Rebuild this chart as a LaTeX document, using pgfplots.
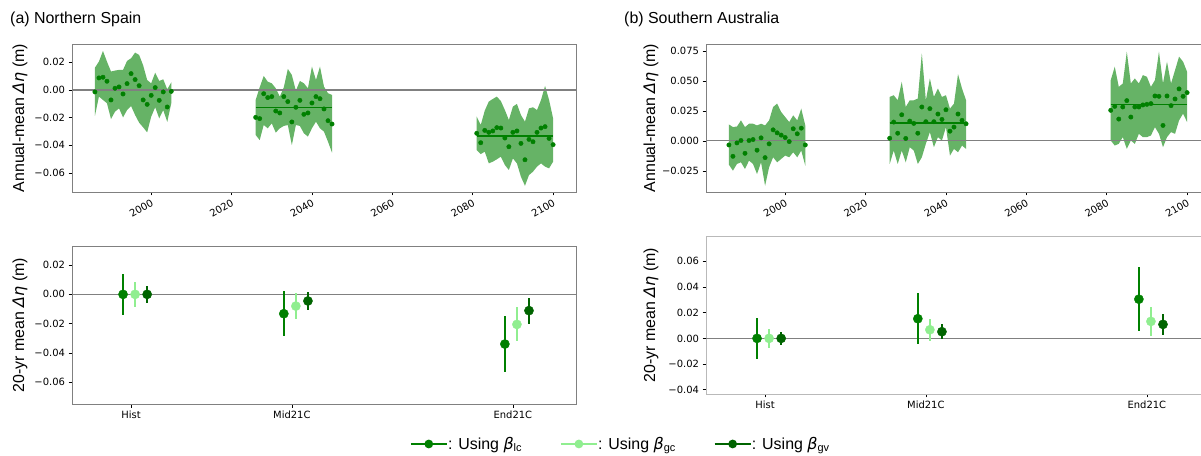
\documentclass[border=0pt]{standalone}
\usepackage{pgfplots}
\pgfplotsset{compat=1.18}
\usepackage{pgfplotstable}
\usepgfplotslibrary{fillbetween}
\usepackage{fontspec}
\setmainfont{Liberation Sans}
\newfontfamily\dv{DejaVu Sans}
\definecolor{lc}{RGB}{0,128,0}
\definecolor{gc}{RGB}{144,238,144}
\definecolor{gv}{RGB}{0,100,0}
\definecolor{band}{RGB}{102,179,102}
\definecolor{spine}{RGB}{128,128,128}
\definecolor{spinelt}{RGB}{185,185,185}

\pgfplotstableread{
year val lo hi
1986 -0.0014 -0.0188 0.0161
1987 0.0087 -0.0048 0.0205
1988 0.0092 -0.0072 0.0282
1989 0.0063 -0.0096 0.0205
1990 -0.0072 -0.0210 0.0133
1991 0.0012 -0.0157 0.0140
1992 0.0022 -0.0133 0.0145
1993 -0.0029 -0.0198 0.0145
1994 0.0046 -0.0145 0.0210
1995 0.0118 -0.0116 0.0229
1996 0.0075 -0.0181 0.0270
1997 0.0031 -0.0236 0.0253
1998 -0.0072 -0.0270 0.0178
1999 -0.0104 -0.0306 0.0072
2000 -0.0039 -0.0193 0.0048
2001 0.0017 -0.0125 0.0125
2002 -0.0075 -0.0205 0.0065
2003 -0.0014 -0.0145 0.0077
2004 -0.0123 -0.0231 0.0005
2005 -0.0010 -0.0096 0.0055
}\NSH
\pgfplotstableread{
year val lo hi
2026 -0.0198 -0.0325 -0.0072
2027 -0.0207 -0.0362 0.0019
2028 -0.0027 -0.0253 0.0101
2029 -0.0055 -0.0277 0.0060
2030 -0.0048 -0.0241 0.0048
2031 -0.0152 -0.0308 0.0012
2032 -0.0166 -0.0277 -0.0048
2033 -0.0048 -0.0260 0.0019
2034 -0.0084 -0.0253 0.0152
2035 -0.0231 -0.0398 0.0108
2036 -0.0125 -0.0253 -0.0005
2037 -0.0075 -0.0260 0.0065
2038 -0.0176 -0.0313 0.0048
2039 -0.0166 -0.0337 0.0012
2040 -0.0094 -0.0277 0.0169
2041 -0.0048 -0.0229 0.0072
2042 -0.0063 -0.0277 0.0169
2043 -0.0137 -0.0301 0.0024
2044 -0.0222 -0.0374 -0.0024
2045 -0.0246 -0.0453 -0.0036
}\NSM
\pgfplotstableread{
year val lo hi
2081 -0.0313 -0.0434 -0.0193
2082 -0.0381 -0.0463 -0.0253
2083 -0.0292 -0.0446 -0.0149
2084 -0.0306 -0.0530 -0.0084
2085 -0.0296 -0.0518 -0.0065
2086 -0.0272 -0.0501 -0.0048
2087 -0.0275 -0.0482 -0.0080
2088 -0.0347 -0.0542 -0.0145
2089 -0.0410 -0.0578 -0.0217
2090 -0.0306 -0.0494 -0.0120
2091 -0.0296 -0.0530 -0.0101
2092 -0.0386 -0.0627 -0.0181
2093 -0.0504 -0.0692 -0.0229
2094 -0.0357 -0.0615 -0.0133
2095 -0.0374 -0.0590 -0.0125
2096 -0.0306 -0.0554 -0.0145
2097 -0.0275 -0.0530 -0.0072
2098 -0.0265 -0.0554 0.0029
2099 -0.0350 -0.0566 -0.0072
2100 -0.0395 -0.0518 -0.0205
}\NSE
\pgfplotstableread{
year val lo hi
1986 -0.0034 -0.0199 0.0137
1987 -0.0129 -0.0249 0.0115
1988 -0.0017 -0.0193 0.0120
1989 0.0003 -0.0179 0.0171
1990 -0.0104 -0.0235 0.0115
1991 0.0003 -0.0165 0.0143
1992 0.0011 -0.0193 0.0143
1993 -0.0078 -0.0277 0.0129
1994 0.0025 -0.0179 0.0143
1995 -0.0140 -0.0375 0.0129
1996 -0.0025 -0.0221 0.0171
1997 0.0092 -0.0137 0.0283
1998 0.0067 -0.0179 0.0311
1999 0.0048 -0.0151 0.0241
2000 0.0028 -0.0123 0.0199
2001 -0.0006 -0.0137 0.0157
2002 0.0101 -0.0095 0.0213
2003 0.0059 -0.0137 0.0171
2004 0.0106 -0.0081 0.0269
2005 -0.0034 -0.0207 0.0129
}\SAH
\pgfplotstableread{
year val lo hi
2026 0.0022 -0.0193 0.0367
2027 0.0157 -0.0081 0.0381
2028 0.0064 -0.0193 0.0339
2029 0.0218 -0.0081 0.0493
2030 0.0020 -0.0179 0.0283
2031 0.0165 -0.0053 0.0339
2032 0.0146 -0.0081 0.0339
2033 0.0064 -0.0193 0.0353
2034 0.0283 -0.0137 0.0731
2035 0.0160 -0.0025 0.0339
2036 0.0269 0.0073 0.0521
2037 0.0160 -0.0053 0.0367
2038 0.0224 0.0031 0.0437
2039 0.0179 0.0003 0.0367
2040 0.0260 0.0115 0.0381
2041 0.0081 -0.0123 0.0269
2042 0.0115 -0.0067 0.0311
2043 0.0224 -0.0095 0.0557
2044 0.0171 -0.0039 0.0437
2045 0.0143 -0.0067 0.0339
}\SAM
\pgfplotstableread{
year val lo hi
2081 0.0255 0.0003 0.0507
2082 0.0288 -0.0039 0.0619
2083 0.0182 -0.0025 0.0451
2084 0.0283 0.0031 0.0479
2085 0.0336 -0.0067 0.0745
2086 0.0199 0.0003 0.0479
2087 0.0283 -0.0025 0.0521
2088 0.0283 0.0059 0.0479
2089 0.0300 0.0031 0.0549
2090 0.0305 0.0031 0.0535
2091 0.0311 0.0045 0.0451
2092 0.0375 0.0115 0.0507
2093 0.0372 0.0059 0.0745
2094 0.0129 -0.0053 0.0479
2095 0.0375 0.0031 0.0661
2096 0.0294 0.0073 0.0479
2097 0.0350 0.0059 0.0591
2098 0.0434 0.0171 0.0703
2099 0.0372 0.0227 0.0661
2100 0.0403 0.0157 0.0577
}\SAE

\pgfplotsset{
  base/.style={
    scale only axis, width=504bp, anchor=south west,
    xmin=1980.3, xmax=2105.7,
    scaled x ticks=false, scaled y ticks=false,
    axis line style={spine, line width=0.9bp},
    tick align=outside, xtick pos=bottom, ytick pos=left,
    major tick length=3.5bp, tick style={black, line width=0.6bp},
    ticklabel style={font=\dv\fontsize{10}{12}\selectfont},
    ylabel style={font=\fontsize{16}{19}\selectfont, at={(axis description cs:-0.103,0.5)}, anchor=center},
  },
  top/.style={base, height=148bp,
    xtick={2000,2020,2040,2060,2080,2100},
    xticklabels={2000,2020,2040,2060,2080,2100},
    xticklabel style={rotate=30, anchor=north east, inner sep=2bp},
    ylabel={Annual-mean {\dv\itshape Δη} (m)},
  },
  bot/.style={base, height=158bp,
    xtick={1995,2035,2090},
    xticklabels={Hist,Mid21C,End21C},
    ylabel={20-yr mean {\dv\itshape Δη} (m)},
  },
  pts/.style={only marks, mark=*, mark size=2.2bp, color=lc, mark options={draw=lc, fill=lc}},
  eb/.style={only marks, mark=*, mark size=4.6bp, color=#1, mark options={draw=#1, fill=#1},
    error bars/.cd, y dir=both, y explicit, error mark=none,
    error bar style={line width=2.2bp, color=#1}},
}

\begin{document}
\begin{tikzpicture}[x=1bp,y=1bp]

% ---------- top left ----------
\begin{axis}[top, at={(72bp,264bp)}, ymin=-0.0737, ymax=0.0332,
  ytick={-0.06,-0.04,-0.02,0,0.02},
  yticklabels={−0.06,−0.04,−0.02,0.00,0.02}]
\addplot[draw=none, name path=a1] table[x=year,y=hi]{\NSH};
\addplot[draw=none, name path=b1] table[x=year,y=lo]{\NSH};
\addplot[band, draw=none] fill between[of=a1 and b1];
\addplot[draw=none, name path=a2] table[x=year,y=hi]{\NSM};
\addplot[draw=none, name path=b2] table[x=year,y=lo]{\NSM};
\addplot[band, draw=none] fill between[of=a2 and b2];
\addplot[draw=none, name path=a3] table[x=year,y=hi]{\NSE};
\addplot[draw=none, name path=b3] table[x=year,y=lo]{\NSE};
\addplot[band, draw=none] fill between[of=a3 and b3];
\addplot[lc, line width=1bp] coordinates {(1986,0)(2005,0)};
\addplot[lc, line width=1.5bp] coordinates {(2026,-0.0128)(2045,-0.0128)};
\addplot[lc, line width=1.5bp] coordinates {(2081,-0.0333)(2100,-0.0333)};
\addplot[spine, line width=1.1bp] coordinates {(1980.3,0)(2105.7,0)};
\addplot[pts] table[x=year,y=val]{\NSH};
\addplot[pts] table[x=year,y=val]{\NSM};
\addplot[pts] table[x=year,y=val]{\NSE};
\end{axis}

% ---------- top right ----------
\begin{axis}[top, at={(706bp,264bp)}, ymin=-0.0427, ymax=0.0809,
  ylabel style={at={(axis description cs:-0.109,0.5)}},
  ytick={-0.025,0,0.025,0.05,0.075},
  yticklabels={−0.025,0.000,0.025,0.050,0.075}]
\addplot[draw=none, name path=a1] table[x=year,y=hi]{\SAH};
\addplot[draw=none, name path=b1] table[x=year,y=lo]{\SAH};
\addplot[band, draw=none] fill between[of=a1 and b1];
\addplot[draw=none, name path=a2] table[x=year,y=hi]{\SAM};
\addplot[draw=none, name path=b2] table[x=year,y=lo]{\SAM};
\addplot[band, draw=none] fill between[of=a2 and b2];
\addplot[draw=none, name path=a3] table[x=year,y=hi]{\SAE};
\addplot[draw=none, name path=b3] table[x=year,y=lo]{\SAE};
\addplot[band, draw=none] fill between[of=a3 and b3];
\addplot[lc, line width=1bp] coordinates {(1986,0)(2005,0)};
\addplot[lc, line width=1.5bp] coordinates {(2026,0.0151)(2045,0.0151)};
\addplot[lc, line width=1.5bp] coordinates {(2081,0.0305)(2100,0.0305)};
\addplot[spine, line width=1.1bp] coordinates {(1980.3,0)(2105.7,0)};
\addplot[pts] table[x=year,y=val]{\SAH};
\addplot[pts] table[x=year,y=val]{\SAM};
\addplot[pts] table[x=year,y=val]{\SAE};
\end{axis}

% ---------- bottom left ----------
\begin{axis}[bot, at={(72bp,52bp)}, ymin=-0.0748, ymax=0.033,
  ytick={-0.06,-0.04,-0.02,0,0.02},
  yticklabels={−0.06,−0.04,−0.02,0.00,0.02},
  legend style={at={(axis description cs:1.087,-0.253)}, anchor=center,
    draw=none, fill=none, font=\fontsize{16}{19}\selectfont,
    nodes={inner xsep=0.5bp},
    /tikz/every even column/.append style={column sep=38bp}},
  legend columns=3,
  legend image code/.code={\draw[mark repeat=2, mark phase=2] plot coordinates {(0bp,0bp)(18bp,0bp)(36bp,0bp)};}]
\addlegendimage{lc, line width=1.5bp, mark=*, mark size=3.6bp}
\addlegendentry{: Using {\dv\itshape β}\raisebox{-0.3ex}{\fontsize{11}{11}\selectfont lc}}
\addlegendimage{gc, line width=1.5bp, mark=*, mark size=3.6bp}
\addlegendentry{: Using {\dv\itshape β}\raisebox{-0.3ex}{\fontsize{11}{11}\selectfont gc}}
\addlegendimage{gv, line width=1.5bp, mark=*, mark size=3.6bp}
\addlegendentry{: Using {\dv\itshape β}\raisebox{-0.3ex}{\fontsize{11}{11}\selectfont gv}}
\addplot[forget plot, spine, line width=1bp] coordinates {(1980.3,0)(2105.7,0)};
\addplot[forget plot, eb=lc] coordinates {(1993,0) +- (0,0.0138) (2033,-0.0132) +- (0,0.0155) (2088,-0.0339) +- (0,0.019)};
\addplot[forget plot, eb=gc] coordinates {(1996,0) +- (0,0.0084) (2036,-0.0080) +- (0,0.009) (2091,-0.0205) +- (0,0.0116)};
\addplot[forget plot, eb=gv] coordinates {(1999,0) +- (0,0.0057) (2039,-0.0045) +- (0,0.006) (2094,-0.0111) +- (0,0.0089)};
\end{axis}

% ---------- bottom right ----------
\begin{axis}[bot, at={(706bp,62bp)}, ymin=-0.0433, ymax=0.0797,
  axis line style={spinelt},
  ylabel style={at={(axis description cs:-0.109,0.5)}},
  ytick={-0.04,-0.02,0,0.02,0.04,0.06},
  yticklabels={−0.04,−0.02,0.00,0.02,0.04,0.06}]
\addplot[spine, line width=1bp] coordinates {(1980.3,0)(2105.7,0)};
\addplot[eb=lc] coordinates {(1993,0) +- (0,0.0157) (2033,0.0153) +- (0,0.020) (2088,0.0305) +- (0,0.0247)};
\addplot[eb=gc] coordinates {(1996,0) +- (0,0.0072) (2036,0.0067) +- (0,0.0087) (2091,0.0132) +- (0,0.011)};
\addplot[eb=gv] coordinates {(1999,0) +- (0,0.005) (2039,0.0052) +- (0,0.006) (2094,0.0109) +- (0,0.008)};
\end{axis}

\node[anchor=base west, font=\fontsize{16}{19}\selectfont, inner sep=0] at (10bp,432.5bp) {(a) Northern Spain};
\node[anchor=base west, font=\fontsize{16}{19}\selectfont, inner sep=0] at (624bp,432.5bp) {(b) Southern Australia};

\pgfresetboundingbox
\path[use as bounding box] (0,0) rectangle (1201bp,456bp);
\end{tikzpicture}
\end{document}
